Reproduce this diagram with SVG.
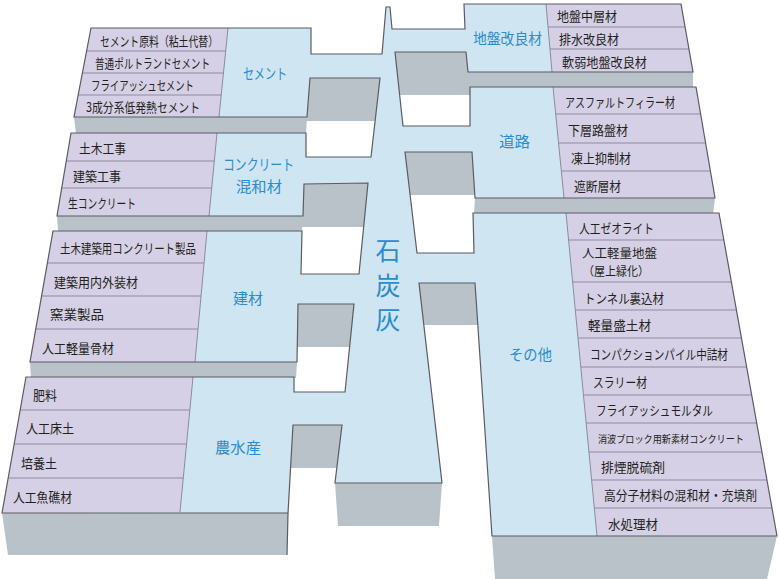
<svg xmlns="http://www.w3.org/2000/svg" width="779" height="579" viewBox="0 0 779 579">
<style>
.side{fill:#b9c2c8}
.top{fill:#cfe5f2}
.panel{fill:#d6d0e6}
.div{stroke:#8e8a9c;stroke-width:1;fill:none}
.row{stroke:#8e8a9c;stroke-width:1.2}
.outline{fill:none;stroke:#5c5b63;stroke-width:1.2;stroke-linejoin:miter}
.t{font-family:"Noto Sans CJK JP","Noto Sans",sans-serif;font-size:13px;fill:#231f20;dominant-baseline:central}
.b{font-family:"Noto Sans CJK JP","Noto Sans",sans-serif;font-size:15px;fill:#2b8bd0;text-anchor:middle;dominant-baseline:central}
.big{font-family:"Noto Sans CJK JP","Noto Sans",sans-serif;font-size:25px;fill:#2b8bd0;text-anchor:middle;dominant-baseline:central}
</style>
<rect width="779" height="579" fill="#ffffff"/>
<g id="base">
  <g id="sides">
    <polygon class="side" points="74,117 307,117 306,134 76,134"/>
    <polygon class="side" points="57,216 303,216 302,232 58,232"/>
    <polygon class="side" points="30,362 297,362 296,378 31,378"/>
    <polygon class="side" points="468,72 693,72 693,88 469,88"/>
    <polygon class="side" points="475,198 715,198 713,214 474,214"/>
    <rect class="side" x="300" y="78" width="85" height="43"/>
    <rect class="side" x="300" y="183" width="72" height="44"/>
    <rect class="side" x="294" y="304" width="64" height="43"/>
    <rect class="side" x="288" y="425" width="58" height="43"/>
    <rect class="side" x="392" y="52" width="79" height="43"/>
    <rect class="side" x="403" y="152" width="71" height="43"/>
    <rect class="side" x="417" y="283" width="61" height="42"/>
    <polygon class="side" points="2,513 288,513 287,555 8,555"/>
    <polygon class="side" points="335,483 442,483 439,526 338,526"/>
    <polygon class="side" points="492,536 777,536 767,579 495,579"/>
  </g>
  <polygon id="surface" class="top" points="386,7 390,7 392,29 465,29 464,4 681,4 693,72 468,72 466,52 395,52 403,126 470,126 470,87 696,87 715,198 475,198 472,152 405,152 417,253 474,253 473,213 719,213 777,536 492,536 475,283 419,283 442,483 335,483 342,425 293,425 288,513 2,513 26,377 294,377 294,392 345,392 354,304 298,304 297,362 30,362 53,231 302,231 301,274 359,274 368,183 304,184 303,216 57,216 71,133 306,133 306,157 371,157 380,78 310,78 307,117 74,117 91,28 311,28 311,54 382,54"/>
</g>

<g id="trunk">
  <text class="big" x="388" y="249">石</text>
  <text class="big" x="388" y="284">炭</text>
  <text class="big" x="388" y="318">灰</text>
</g>

<g id="cement">
  <polygon class="panel" points="91,28 228,28 219,117 74,117"/>
  <line class="div" x1="228" y1="28" x2="219" y2="117"/>
  <line class="row" x1="86.6" y1="51" x2="225.7" y2="51"/>
  <line class="row" x1="82.4" y1="73" x2="223.4" y2="73"/>
  <line class="row" x1="78.2" y1="95" x2="221.2" y2="95"/>
  <text class="t" x="100" y="40" textLength="118" lengthAdjust="spacingAndGlyphs">セメント原料（粘土代替）</text>
  <text class="t" x="95" y="62" textLength="115" lengthAdjust="spacingAndGlyphs">普通ポルトランドセメント</text>
  <text class="t" x="91" y="84" textLength="103" lengthAdjust="spacingAndGlyphs">フライアッシュセメント</text>
  <text class="t" x="86" y="106" textLength="114" lengthAdjust="spacingAndGlyphs">3成分系低発熱セメント</text>
  <text class="b" x="265" y="72" textLength="44" lengthAdjust="spacingAndGlyphs">セメント</text>
</g>

<g id="concrete">
  <polygon class="panel" points="71,133 217,133 209,216 57,216"/>
  <line class="div" x1="217" y1="133" x2="209" y2="216"/>
  <line class="row" x1="66.3" y1="161" x2="214.3" y2="161"/>
  <line class="row" x1="61.7" y1="188" x2="211.7" y2="188"/>
  <text class="t" x="79" y="147" textLength="47" lengthAdjust="spacingAndGlyphs">土木工事</text>
  <text class="t" x="73" y="175" textLength="48" lengthAdjust="spacingAndGlyphs">建築工事</text>
  <text class="t" x="68" y="202" textLength="68" lengthAdjust="spacingAndGlyphs">生コンクリート</text>
  <text class="b" x="258.5" y="163" textLength="71" lengthAdjust="spacingAndGlyphs">コンクリート</text>
  <text class="b" x="259" y="185" textLength="46" lengthAdjust="spacingAndGlyphs">混和材</text>
</g>

<g id="kenzai">
  <polygon class="panel" points="53,231 207,231 195,362 30,362"/>
  <line class="div" x1="207" y1="231" x2="195" y2="362"/>
  <line class="row" x1="47.4" y1="263" x2="204.1" y2="263"/>
  <line class="row" x1="41.6" y1="296" x2="201" y2="296"/>
  <line class="row" x1="35.8" y1="329" x2="198" y2="329"/>
  <text class="t" x="60" y="247" textLength="136" lengthAdjust="spacingAndGlyphs">土木建築用コンクリート製品</text>
  <text class="t" x="54" y="281" textLength="84" lengthAdjust="spacingAndGlyphs">建築用内外装材</text>
  <text class="t" x="50" y="313" textLength="54" lengthAdjust="spacingAndGlyphs">窯業製品</text>
  <text class="t" x="42" y="347" textLength="72" lengthAdjust="spacingAndGlyphs">人工軽量骨材</text>
  <text class="b" x="248" y="297" textLength="30" lengthAdjust="spacingAndGlyphs">建材</text>
</g>

<g id="nousui">
  <polygon class="panel" points="26,377 193,377 180,512 2,513"/>
  <line class="div" x1="193" y1="377" x2="180" y2="512"/>
  <line class="row" x1="20.2" y1="410" x2="189.8" y2="410"/>
  <line class="row" x1="14.2" y1="444" x2="186.5" y2="444"/>
  <line class="row" x1="8.2" y1="478" x2="183.3" y2="478"/>
  <text class="t" x="33" y="394" textLength="24" lengthAdjust="spacingAndGlyphs">肥料</text>
  <text class="t" x="26" y="427" textLength="48" lengthAdjust="spacingAndGlyphs">人工床土</text>
  <text class="t" x="21" y="462" textLength="36" lengthAdjust="spacingAndGlyphs">培養土</text>
  <text class="t" x="13" y="496" textLength="59" lengthAdjust="spacingAndGlyphs">人工魚礁材</text>
  <text class="b" x="238" y="446" textLength="46" lengthAdjust="spacingAndGlyphs">農水産</text>
</g>

<g id="jiban">
  <polygon class="panel" points="546,4 681,4 693,72 552,72"/>
  <line class="div" x1="546" y1="4" x2="552" y2="72"/>
  <line class="row" x1="548" y1="27" x2="685" y2="27"/>
  <line class="row" x1="550" y1="49" x2="688.9" y2="49"/>
  <text class="t" x="557" y="15" textLength="60" lengthAdjust="spacingAndGlyphs">地盤中層材</text>
  <text class="t" x="559" y="38" textLength="60" lengthAdjust="spacingAndGlyphs">排水改良材</text>
  <text class="t" x="562" y="61" textLength="85" lengthAdjust="spacingAndGlyphs">軟弱地盤改良材</text>
  <text class="b" x="507.5" y="37" textLength="69" lengthAdjust="spacingAndGlyphs">地盤改良材</text>
</g>

<g id="douro">
  <polygon class="panel" points="553,87 696,87 715,198 564,198"/>
  <line class="div" x1="553" y1="87" x2="564" y2="198"/>
  <line class="row" x1="555.7" y1="114" x2="700.6" y2="114"/>
  <line class="row" x1="558.5" y1="143" x2="705.6" y2="143"/>
  <line class="row" x1="561.3" y1="171" x2="710.4" y2="171"/>
  <text class="t" x="565" y="101" textLength="110" lengthAdjust="spacingAndGlyphs">アスファルトフィラー材</text>
  <text class="t" x="568" y="129" textLength="60" lengthAdjust="spacingAndGlyphs">下層路盤材</text>
  <text class="t" x="571" y="157" textLength="60" lengthAdjust="spacingAndGlyphs">凍上抑制材</text>
  <text class="t" x="574" y="185" textLength="47" lengthAdjust="spacingAndGlyphs">遮断層材</text>
  <text class="b" x="514.5" y="140" textLength="31" lengthAdjust="spacingAndGlyphs">道路</text>
</g>

<g id="sonota">
  <polygon class="panel" points="566,213 719,213 777,536 597,536"/>
  <line class="div" x1="566" y1="213" x2="597" y2="536"/>
  <line class="row" x1="568.6" y1="240" x2="723.8" y2="240"/>
  <line class="row" x1="572.6" y1="282" x2="731.4" y2="282"/>
  <line class="row" x1="575.3" y1="310" x2="736.4" y2="310"/>
  <line class="row" x1="578" y1="338" x2="741.4" y2="338"/>
  <line class="row" x1="580.8" y1="367" x2="746.7" y2="367"/>
  <line class="row" x1="583.5" y1="395" x2="751.7" y2="395"/>
  <line class="row" x1="586.2" y1="423" x2="756.7" y2="423"/>
  <line class="row" x1="589" y1="452" x2="761.9" y2="452"/>
  <line class="row" x1="591.6" y1="480" x2="767" y2="480"/>
  <line class="row" x1="594.3" y1="508" x2="772" y2="508"/>
  <text class="t" x="579" y="227" textLength="75" lengthAdjust="spacingAndGlyphs">人工ゼオライト</text>
  <text class="t" x="582" y="252" textLength="75" lengthAdjust="spacingAndGlyphs" style="font-size:12px">人工軽量地盤</text>
  <text class="t" x="583" y="270" textLength="66" lengthAdjust="spacingAndGlyphs" style="font-size:12px">（屋上緑化）</text>
  <text class="t" x="584" y="297" textLength="80" lengthAdjust="spacingAndGlyphs">トンネル裏込材</text>
  <text class="t" x="588" y="324" textLength="63" lengthAdjust="spacingAndGlyphs">軽量盛土材</text>
  <text class="t" x="590" y="353" textLength="138" lengthAdjust="spacingAndGlyphs">コンパクションパイル中詰材</text>
  <text class="t" x="593" y="381" textLength="54" lengthAdjust="spacingAndGlyphs">スラリー材</text>
  <text class="t" x="596" y="409" textLength="117" lengthAdjust="spacingAndGlyphs">フライアッシュモルタル</text>
  <text class="t" x="598" y="438" textLength="146" lengthAdjust="spacingAndGlyphs" style="font-size:10.5px">消波ブロック用新素材コンクリート</text>
  <text class="t" x="601" y="466" textLength="64" lengthAdjust="spacingAndGlyphs">排煙脱硫剤</text>
  <text class="t" x="604" y="494" textLength="153" lengthAdjust="spacingAndGlyphs">高分子材料の混和材・充填剤</text>
  <text class="t" x="608" y="523" textLength="50" lengthAdjust="spacingAndGlyphs">水処理材</text>
  <text class="b" x="530.5" y="353" textLength="43" lengthAdjust="spacingAndGlyphs">その他</text>
</g>

<g id="connectors">
  <polygon class="outline" points="386,7 390,7 392,29 465,29 464,4 681,4 693,72 468,72 466,52 395,52 403,126 470,126 470,87 696,87 715,198 475,198 472,152 405,152 417,253 474,253 473,213 719,213 777,536 492,536 475,283 419,283 442,483 335,483 342,425 293,425 288,513 2,513 26,377 294,377 294,392 345,392 354,304 298,304 297,362 30,362 53,231 302,231 301,274 359,274 368,183 304,184 303,216 57,216 71,133 306,133 306,157 371,157 380,78 310,78 307,117 74,117 91,28 311,28 311,54 382,54"/>
  <line class="outline" x1="288" y1="513" x2="287" y2="555"/>
</g>
</svg>
